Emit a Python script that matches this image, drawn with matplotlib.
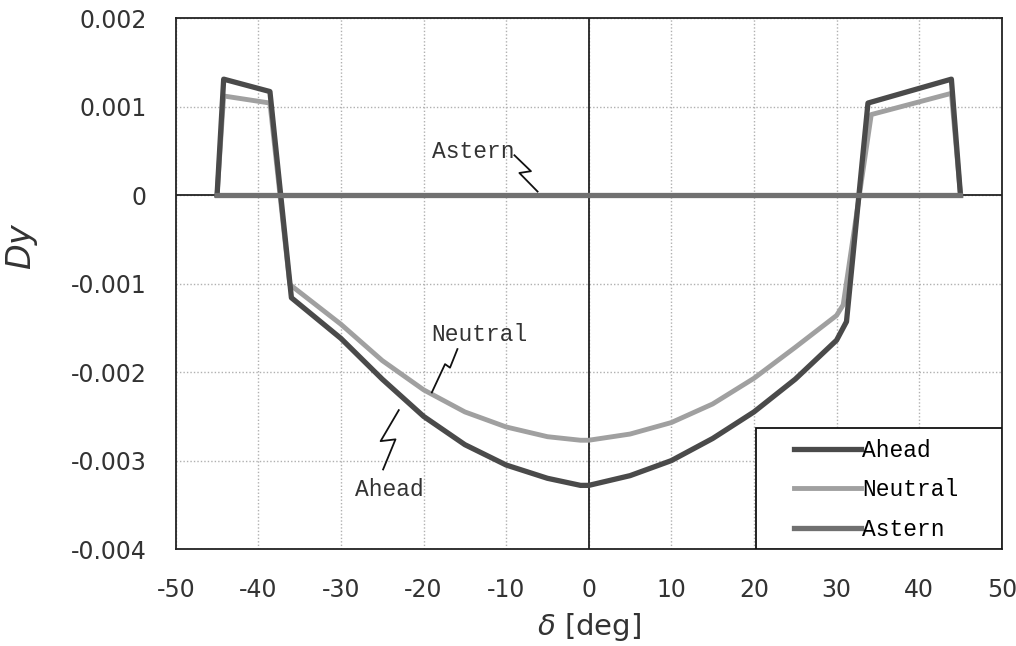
import matplotlib
matplotlib.use("Agg")
import matplotlib.pyplot as plt
from matplotlib.patches import Rectangle

plt.rcParams["axes.unicode_minus"] = False

# ---- data ----
delta_ahead = [-45, -44.2, -38.6, -36.0, -30, -25, -20, -15, -10, -5, -1, 0,
               5, 10, 15, 20, 25, 30, 31.2, 33.8, 43.9, 45]
dy_ahead = [0, 0.00131, 0.00117, -0.00116, -0.00162, -0.00208, -0.00250,
            -0.00282, -0.00305, -0.00320, -0.00328, -0.00328, -0.00317,
            -0.00300, -0.00275, -0.00245, -0.00208, -0.00164, -0.00143,
            0.00104, 0.00131, 0]

delta_neutral = [-45, -44.2, -38.6, -36.2, -30, -25, -20, -15, -10, -5, -1, 0,
                 5, 10, 15, 20, 25, 30, 30.8, 34.2, 43.9, 45]
dy_neutral = [0, 0.00112, 0.00104, -0.00101, -0.00146, -0.00187, -0.00220,
              -0.00245, -0.00262, -0.00273, -0.00277, -0.00277, -0.00270,
              -0.00257, -0.00236, -0.00207, -0.00172, -0.00136, -0.00124,
              0.00091, 0.00115, 0]

delta_astern = [-45, -30, -15, 0, 15, 30, 45]
dy_astern = [0, 0, 0, 0, 0, 0, 0]

x_ticks = [-50, -40, -30, -20, -10, 0, 10, 20, 30, 40, 50]
y_ticks = [-0.004, -0.003, -0.002, -0.001, 0, 0.001, 0.002]
y_tick_labels = ["-0.004", "-0.003", "-0.002", "-0.001", "0", "0.001", "0.002"]

# ---- figure ----
fig = plt.figure(figsize=(10.16, 6.46), dpi=100)
ax = fig.add_axes([0.173, 0.150, 0.813, 0.822])

c_ahead = "#4a4a4a"
c_neutral = "#a0a0a0"
c_astern = "#707070"

ax.plot(delta_ahead, dy_ahead, color=c_ahead, lw=3.8, solid_joinstyle="round",
        label="Ahead", zorder=4)
ax.plot(delta_neutral, dy_neutral, color=c_neutral, lw=3.5,
        solid_joinstyle="round", label="Neutral", zorder=3)
ax.plot(delta_astern, dy_astern, color=c_astern, lw=3.8, label="Astern", zorder=5)

ax.axhline(0, color="#222222", lw=1.3, zorder=2)
ax.axvline(0, color="#222222", lw=1.3, zorder=2)

ax.set_xlim(-50, 50)
ax.set_ylim(-0.004, 0.002)
ax.set_xticks(x_ticks)
ax.set_yticks(y_ticks)
ax.set_yticklabels(y_tick_labels)
ax.tick_params(length=0, labelsize=17, colors="#333333")
ax.tick_params(axis="y", pad=21)
ax.tick_params(axis="x", pad=21)
ax.grid(True, color="#b0b0b0", linestyle=(0, (1, 1.5)), lw=1.0, zorder=0)
for s in ax.spines.values():
    s.set_color("#222222")
    s.set_linewidth(1.3)

ax.set_xlabel(r"$\delta$ [deg]", fontsize=21, labelpad=6, color="#333333")
ax.set_ylabel(r"$Dy$", fontsize=24, color="#333333")
ax.yaxis.set_label_coords(-0.164, 0.57)

mono = "Liberation Mono"

# legend box
box = Rectangle((0.703, 0.0), 0.297, 0.228, transform=ax.transAxes,
                facecolor="white", edgecolor="#111111", lw=1.3, zorder=9)
ax.add_patch(box)
leg = ax.legend(loc="upper left", bbox_to_anchor=(0.749, 0.208),
                borderaxespad=0, frameon=False,
                prop={"family": mono, "size": 16.5},
                handlelength=2.9, handletextpad=0.05, labelspacing=0.72,
                borderpad=0)
leg.set_zorder(10)

# ---- annotations with zigzag leaders ----
ax.text(-19.0, 0.00049, "Astern", family=mono, fontsize=16.5, ha="left",
        va="center", color="#333333")
ax.plot([-9.0, -7.0, -8.4, -6.2], [0.00045, 0.00027, 0.00025, 0.00004],
        color="#111111", lw=1.3, zorder=6)

ax.text(-13.3, -0.00158, "Neutral", family=mono, fontsize=16.5, ha="center",
        va="center", color="#333333")
ax.plot([-15.9, -16.8, -17.4, -19.0], [-0.00174, -0.00195, -0.00191, -0.00223],
        color="#111111", lw=1.3, zorder=6)

ax.text(-24.2, -0.00333, "Ahead", family=mono, fontsize=16.5, ha="center",
        va="center", color="#333333")
ax.plot([-23.0, -25.2, -23.4, -24.9], [-0.00243, -0.00278, -0.00276, -0.00310],
        color="#111111", lw=1.3, zorder=6)

fig.savefig("out.png", dpi=100)
